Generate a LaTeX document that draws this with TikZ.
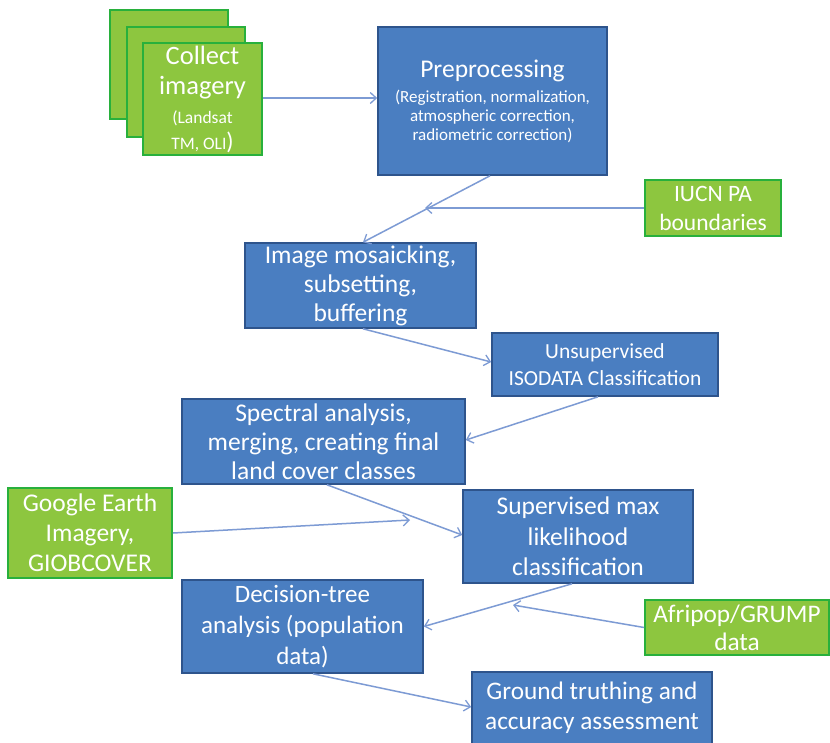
\documentclass[tikz,border=0pt]{standalone}
\usepackage{fontspec}
\setmainfont{Carlito}
\usetikzlibrary{arrows.meta}
\definecolor{bfill}{RGB}{74,126,193}
\definecolor{bdraw}{RGB}{46,84,140}
\definecolor{gfill}{RGB}{141,198,63}
\definecolor{gdraw}{RGB}{40,176,60}
\definecolor{arr}{RGB}{125,155,212}
\tikzset{
  bbox/.style={rectangle, fill=bfill, draw=bdraw, line width=1.6pt, text=white, align=center, inner sep=0pt},
  gbox/.style={rectangle, fill=gfill, draw=gdraw, line width=1.8pt, text=white, align=center, inner sep=0pt},
  conn/.style={draw=arr, line width=1.5pt, -{Straight Barb[length=6pt,width=11pt,line width=1.3pt]}},
}
\begin{document}
\begin{tikzpicture}[x=1pt,y=-1pt]
\fill[white] (0,0) rectangle (830,742);
\useasboundingbox (0,0) rectangle (830,742);
% collect imagery stack
\node[gbox, minimum width=118pt, minimum height=109pt] (back) at (169,64.5) {};
\node[gbox, minimum width=118pt, minimum height=110pt] (mid) at (186,82) {};
\node[gbox, minimum width=119pt, minimum height=112pt, font=\fontsize{26.5}{30}\selectfont] (front) at (202.5,99)
  {Collect\\imagery\\[-1pt]
   \fontsize{17.5}{26}\selectfont (Landsat\\[-4pt]\fontsize{17.5}{26}\selectfont TM, OLI\fontsize{24}{26}\selectfont)};
\node[bbox, minimum width=229pt, minimum height=148pt, font=\fontsize{17}{19}\selectfont] (pre) at (492.5,101)
  {\fontsize{25.5}{28}\selectfont Preprocessing\\[6pt]
   (Registration, normalization,\\atmospheric correction,\\radiometric correction)};
\node[gbox, minimum width=136pt, minimum height=56pt, font=\fontsize{23.5}{29}\selectfont] (iucn) at (713,208)
  {IUCN PA\\boundaries};
\node[bbox, minimum width=231pt, minimum height=85pt, font=\fontsize{25.5}{29}\selectfont] (mos) at (360.5,285.5)
  {Image mosaicking,\\subsetting,\\buffering};
\node[bbox, minimum width=226pt, minimum height=63pt, font=\fontsize{21.5}{27}\selectfont] (uns) at (605,364.5)
  {Unsupervised\\ISODATA Classification};
\node[bbox, minimum width=283pt, minimum height=85pt, font=\fontsize{25.5}{29}\selectfont] (spe) at (323.5,441.5)
  {Spectral analysis,\\merging, creating final\\land cover classes};
\node[gbox, minimum width=164pt, minimum height=90pt, font=\fontsize{25.5}{30}\selectfont] (goo) at (90,533)
  {Google Earth\\Imagery,\\GIOBCOVER};
\node[bbox, minimum width=230pt, minimum height=93pt, font=\fontsize{25.5}{30.5}\selectfont] (sup) at (578,536.5)
  {Supervised max\\likelihood\\classification};
\node[bbox, minimum width=241pt, minimum height=93pt, font=\fontsize{25}{31}\selectfont] (dec) at (302.5,626.5)
  {Decision-tree\\analysis (population\\data)};
\node[gbox, minimum width=184pt, minimum height=55pt, font=\fontsize{25.3}{28}\selectfont] (afr) at (737,627.5)
  {Afripop/GRUMP\\data};
\node[bbox, minimum width=240pt, minimum height=72pt, font=\fontsize{25.3}{30}\selectfont] (gro) at (592,708)
  {Ground truthing and\\accuracy assessment};
% free ends
\coordinate (c1) at (425,208);
\coordinate (c2) at (410,520);
\coordinate (c3) at (513,605);
% connectors
\draw[conn] ([yshift=1pt]front.east) -- ([yshift=1pt]front.east -| pre.west);
\draw[conn] ([xshift=-2.5pt]pre.south) -- ([xshift=2.5pt]mos.north);
\draw[conn] (iucn.west) -- (c1);
\draw[conn] ([xshift=2.5pt]mos.south) -- ([yshift=2.5pt]uns.west);
\draw[conn] ([xshift=-7pt]uns.south) -- ([yshift=1.5pt]spe.east);
\draw[conn] ([xshift=3.5pt]spe.south) -- ([yshift=1.5pt]sup.west);
\draw[conn] (goo.east) -- (c2);
\draw[conn] ([xshift=-6pt]sup.south) -- (dec.east);
\draw[conn] (afr.west) -- (c3);
\draw[conn] ([xshift=10.5pt]dec.south) -- ([yshift=1pt]gro.west);
\end{tikzpicture}
\end{document}
